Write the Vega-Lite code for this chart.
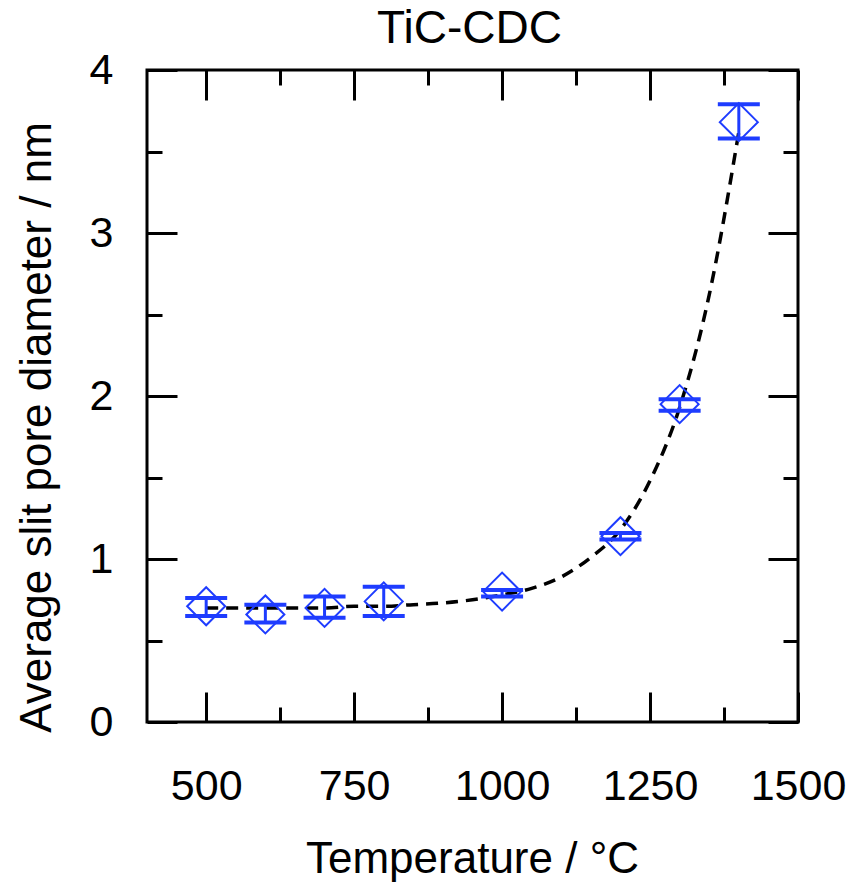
{
  "$schema": "https://vega.github.io/schema/vega-lite/v6.json",
  "width": 651,
  "height": 652,
  "autosize": {"type": "none"},
  "padding": {"left": 147, "top": 70, "right": 55, "bottom": 160},
  "background": "white",
  "config": {
    "font": "Liberation Sans",
    "view": {"stroke": "black", "strokeWidth": 3},
    "axis": {"grid": false, "domain": false, "tickColor": "black", "tickWidth": 3, "labelColor": "black", "titleColor": "black", "labelFont": "Liberation Sans", "titleFont": "Liberation Sans", "titleFontWeight": "normal", "labelFontSize": 43, "titleFontSize": 44}
  },
  "datasets": {
    "points": [
      {"T": 500, "d": 0.71, "lo": 0.65, "hi": 0.76},
      {"T": 600, "d": 0.66, "lo": 0.61, "hi": 0.72},
      {"T": 700, "d": 0.70, "lo": 0.64, "hi": 0.77},
      {"T": 800, "d": 0.74, "lo": 0.65, "hi": 0.83},
      {"T": 1000, "d": 0.80, "lo": 0.77, "hi": 0.81},
      {"T": 1200, "d": 1.14, "lo": 1.12, "hi": 1.16},
      {"T": 1300, "d": 1.95, "lo": 1.91, "hi": 1.98},
      {"T": 1400, "d": 3.68, "lo": 3.58, "hi": 3.79}
    ],
    "curve": [
      {"T": 500, "d": 0.70},
      {"T": 550, "d": 0.70},
      {"T": 600, "d": 0.70},
      {"T": 650, "d": 0.70},
      {"T": 700, "d": 0.70},
      {"T": 750, "d": 0.71},
      {"T": 800, "d": 0.71},
      {"T": 850, "d": 0.72},
      {"T": 900, "d": 0.73},
      {"T": 950, "d": 0.75},
      {"T": 1000, "d": 0.78},
      {"T": 1050, "d": 0.82},
      {"T": 1100, "d": 0.89},
      {"T": 1150, "d": 1.01},
      {"T": 1200, "d": 1.18},
      {"T": 1250, "d": 1.48},
      {"T": 1300, "d": 1.93},
      {"T": 1350, "d": 2.62},
      {"T": 1400, "d": 3.62}
    ]
  },
  "resolve": {"axis": {"x": "independent", "y": "independent"}},
  "layer": [
    {
      "data": {"name": "curve"},
      "mark": {"type": "line", "color": "black", "strokeWidth": 3.5, "strokeDash": [12, 8], "interpolate": "monotone"},
      "encoding": {
        "x": {"field": "T", "type": "quantitative", "scale": {"domain": [400, 1500], "nice": false, "zero": false},
          "axis": {"orient": "bottom", "values": [500, 750, 1000, 1250, 1500], "format": "d", "tickSize": -30, "labelPadding": 107, "labelBaseline": "alphabetic", "labelFlush": false, "title": "Temperature / °C", "titleBaseline": "alphabetic", "titleY": 150, "titleX": 325}},
        "y": {"field": "d", "type": "quantitative", "scale": {"domain": [0, 4], "nice": false},
          "axis": {"orient": "left", "values": [0, 1, 2, 3, 4], "format": "d", "tickSize": -30, "labelPadding": 64, "labelBaseline": "middle", "labelFlush": false, "title": "Average slit pore diameter / nm", "titleAngle": -90, "titleBaseline": "alphabetic", "titleX": -97, "titleY": 357}}
      }
    },
    {
      "data": {"name": "points"},
      "mark": {"type": "rule", "color": "#1e3cff", "strokeWidth": 3, "opacity": 1},
      "encoding": {
        "x": {"field": "T", "type": "quantitative",
          "axis": {"orient": "bottom", "values": [625, 875, 1125, 1375], "tickSize": -15, "labels": false, "title": null}},
        "y": {"field": "lo", "type": "quantitative",
          "axis": {"orient": "left", "values": [0.5, 1.5, 2.5, 3.5], "tickSize": -15, "labels": false, "title": null}},
        "y2": {"field": "hi"}
      }
    },
    {
      "data": {"name": "points"},
      "mark": {"type": "tick", "color": "#1e3cff", "orient": "horizontal", "size": 42, "thickness": 4, "opacity": 1},
      "encoding": {
        "x": {"field": "T", "type": "quantitative",
          "axis": {"orient": "top", "values": [500, 750, 1000, 1250, 1500], "tickSize": -30, "labels": false, "title": "TiC-CDC", "titleFontSize": 46, "titleBaseline": "alphabetic", "titleX": 322, "titleY": -28, "titleAngle": 0}},
        "y": {"field": "hi", "type": "quantitative",
          "axis": {"orient": "right", "values": [0, 1, 2, 3, 4], "tickSize": -30, "labels": false, "title": null}}
      }
    },
    {
      "data": {"name": "points"},
      "mark": {"type": "tick", "color": "#1e3cff", "orient": "horizontal", "size": 42, "thickness": 4, "opacity": 1},
      "encoding": {
        "x": {"field": "T", "type": "quantitative",
          "axis": {"orient": "top", "values": [625, 875, 1125, 1375], "tickSize": -15, "labels": false, "title": null}},
        "y": {"field": "lo", "type": "quantitative",
          "axis": {"orient": "right", "values": [0.5, 1.5, 2.5, 3.5], "tickSize": -15, "labels": false, "title": null}}
      }
    },
    {
      "data": {"name": "points"},
      "mark": {"type": "point", "shape": "diamond", "size": 1444, "filled": false, "color": "#1e3cff", "strokeWidth": 2, "opacity": 1},
      "encoding": {
        "x": {"field": "T", "type": "quantitative", "axis": null},
        "y": {"field": "d", "type": "quantitative", "axis": null}
      }
    }
  ]
}
